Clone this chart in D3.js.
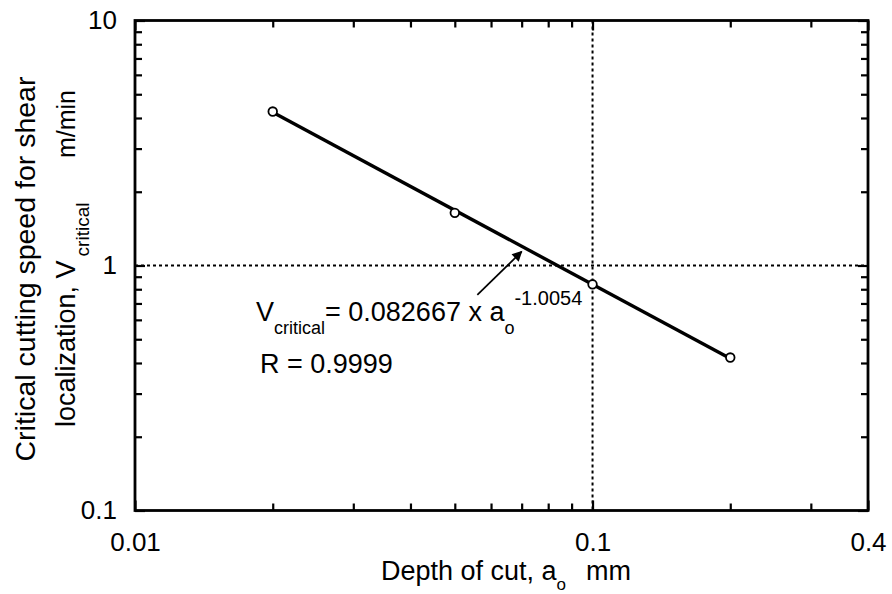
<!DOCTYPE html>
<html><head><meta charset="utf-8">
<script src="https://cdn.jsdelivr.net/npm/d3@7"></script>
<style>
html,body{margin:0;padding:0;background:#fff;}
svg text{font-family:Arial,"Liberation Sans",Helvetica,sans-serif;fill:#000;}
</style></head>
<body><svg id="c" width="892" height="594"></svg>
<script>
// ---- data ----
const depthOfCut = [0.02, 0.05, 0.1, 0.2];          // a_o, mm
const vCritical  = [4.25, 1.64, 0.838, 0.421];      // m/min
const fitCoef = 0.082667, fitExp = -1.0054;
const fitRange = [0.02, 0.2];
const xMajorTicks = [0.01, 0.1, 0.4];
const xTickLabels = ["0.01", "0.1", "0.4"];
const xMinorTicks = [0.02,0.03,0.04,0.05,0.06,0.07,0.08,0.09,0.2,0.3];
const yMajorTicks = [0.1, 1, 10];
const yTickLabels = ["0.1", "1", "10"];
const yMinorTicks = [0.2,0.3,0.4,0.5,0.6,0.7,0.8,0.9,2,3,4,5,6,7,8,9];
const refX = [0.1], refY = [1];
const arrowFrom = [0.056, 0.758], arrowTo = [0.070, 1.14];

const svg = d3.select("#c");
const L=135, R=868, T=20.5, B=510.5;
const x = d3.scaleLog().domain([0.01,0.4]).range([L,R]);
const y = d3.scaleLog().domain([0.1,10]).range([B,T]);

// reference dotted lines
svg.selectAll("line.rx").data(refX).enter().append("line")
  .attr("x1",d=>x(d)).attr("x2",d=>x(d)).attr("y1",T).attr("y2",B)
  .attr("stroke","#000").attr("stroke-width",2).attr("stroke-dasharray","3,3");
svg.selectAll("line.ry").data(refY).enter().append("line")
  .attr("x1",L).attr("x2",R).attr("y1",d=>y(d)).attr("y2",d=>y(d))
  .attr("stroke","#000").attr("stroke-width",2).attr("stroke-dasharray","3,3");

function styleAxis(g){
  g.select(".domain").remove();
  g.selectAll(".tick line").attr("stroke","#000").attr("stroke-width",2.2);
  g.selectAll(".tick text").attr("font-size",26).attr("fill","#000")
    .style("font-family","Arial, 'Liberation Sans', sans-serif");
}
// bottom
svg.append("g").attr("transform",`translate(0,${B})`)
  .call(d3.axisBottom(x).tickValues(xMinorTicks).tickSize(-7).tickFormat("")).call(styleAxis);
svg.append("g").attr("transform",`translate(0,${B})`)
  .call(d3.axisBottom(x).tickValues(xMajorTicks).tickSize(-10).tickPadding(22)
    .tickFormat((d,i)=>xTickLabels[i])).call(styleAxis);
// top
svg.append("g").attr("transform",`translate(0,${T})`)
  .call(d3.axisTop(x).tickValues(xMinorTicks).tickSize(-7).tickFormat("")).call(styleAxis);
svg.append("g").attr("transform",`translate(0,${T})`)
  .call(d3.axisTop(x).tickValues(xMajorTicks).tickSize(-10).tickFormat("")).call(styleAxis);
// left
svg.append("g").attr("transform",`translate(${L},0)`)
  .call(d3.axisLeft(y).tickValues(yMinorTicks).tickSize(-7).tickFormat("")).call(styleAxis);
svg.append("g").attr("transform",`translate(${L},0)`)
  .call(d3.axisLeft(y).tickValues(yMajorTicks).tickSize(-10).tickPadding(18)
    .tickFormat((d,i)=>yTickLabels[i])).call(styleAxis);
// right
svg.append("g").attr("transform",`translate(${R},0)`)
  .call(d3.axisRight(y).tickValues(yMinorTicks).tickSize(-7).tickFormat("")).call(styleAxis);
svg.append("g").attr("transform",`translate(${R},0)`)
  .call(d3.axisRight(y).tickValues(yMajorTicks).tickSize(-10).tickFormat("")).call(styleAxis);

// frame
svg.append("rect").attr("x",L).attr("y",T).attr("width",R-L).attr("height",B-T)
  .attr("fill","none").attr("stroke","#000").attr("stroke-width",2.8);

// fit line
const fitLine = d3.line().x(d=>x(d)).y(d=>y(fitCoef*Math.pow(d,fitExp)));
svg.append("path").datum(fitRange).attr("d",fitLine)
  .attr("fill","none").attr("stroke","#000").attr("stroke-width",3.4);

// points
svg.selectAll("circle.pt").data(depthOfCut).enter().append("circle")
  .attr("cx",d=>x(d)).attr("cy",(d,i)=>y(vCritical[i])).attr("r",4.3)
  .attr("fill","#fff").attr("stroke","#000").attr("stroke-width",1.8);

// arrow
svg.append("defs").append("marker").attr("id","ah").attr("viewBox","0 0 10 10")
  .attr("refX",9).attr("refY",5).attr("markerWidth",7).attr("markerHeight",6)
  .attr("markerUnits","strokeWidth").attr("orient","auto")
  .append("path").attr("d","M0,0 L10,5 L0,10 Z").attr("fill","#000");
svg.append("line").attr("x1",x(arrowFrom[0])).attr("y1",y(arrowFrom[1]))
  .attr("x2",x(arrowTo[0])).attr("y2",y(arrowTo[1]))
  .attr("stroke","#000").attr("stroke-width",1.7).attr("marker-end","url(#ah)");

// equation
const eq = svg.append("text").attr("x",256).attr("y",321).attr("font-size",27);
eq.append("tspan").text("V");
eq.append("tspan").attr("font-size",18).attr("dy",13).text("critical");
eq.append("tspan").attr("font-size",27).attr("dy",-13).text("= 0.082667 x a");
eq.append("tspan").attr("font-size",18).attr("dy",13).text("o");
eq.append("tspan").attr("font-size",20).attr("dy",-29).text("-1.0054");
svg.append("text").attr("x",260).attr("y",373).attr("font-size",27).text("R = 0.9999");

// x title
const xt = svg.append("text").attr("x",381).attr("y",580).attr("font-size",27);
xt.append("tspan").text("Depth of cut, a");
xt.append("tspan").attr("font-size",17).attr("dy",10).text("o");
svg.append("text").attr("x",586).attr("y",580).attr("font-size",27).text("mm");

// y title
svg.append("text").attr("transform","translate(35,269) rotate(-90)")
  .attr("text-anchor","middle").attr("font-size",28.5).text("Critical cutting speed for shear");
const yt = svg.append("text").attr("transform","translate(75,427) rotate(-90)").attr("font-size",27);
yt.append("tspan").text("localization, V");
yt.append("tspan").attr("font-size",19).attr("dy",14).attr("dx",4).text("critical");
svg.append("text").attr("transform","translate(75,90) rotate(-90)")
  .attr("text-anchor","end").attr("font-size",25).text("m/min");
</script></body></html>
